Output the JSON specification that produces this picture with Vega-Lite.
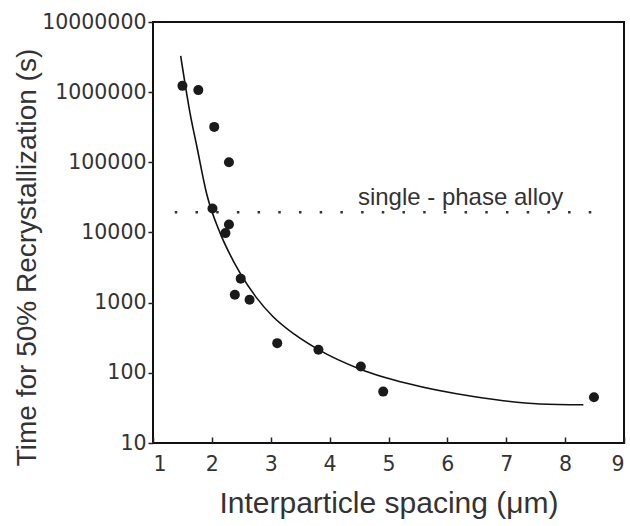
{
  "$schema": "https://vega.github.io/schema/vega-lite/v6.json",
  "width": 471,
  "height": 421,
  "autosize": {"type": "none"},
  "padding": {"left": 153, "top": 22, "right": 6, "bottom": 83},
  "background": "white",
  "config": {
    "font": "Liberation Sans",
    "view": {"stroke": "#111", "strokeWidth": 2},
    "axis": {"grid": false, "domain": false, "labelFont": "DejaVu Sans", "titleFont": "Liberation Sans", "labelColor": "#333", "titleColor": "#333", "tickColor": "#222", "tickWidth": 1.5, "titleFontWeight": "normal"}
  },
  "datasets": {
    "pts": [
      {"x": 1.50, "y": 1230000},
      {"x": 1.77, "y": 1070000},
      {"x": 2.04, "y": 320000},
      {"x": 2.29, "y": 100000},
      {"x": 2.01, "y": 22000},
      {"x": 2.29, "y": 13000},
      {"x": 2.23, "y": 9800},
      {"x": 2.49, "y": 2200},
      {"x": 2.39, "y": 1300},
      {"x": 2.64, "y": 1100},
      {"x": 3.11, "y": 265},
      {"x": 3.81, "y": 213},
      {"x": 4.53, "y": 123},
      {"x": 4.91, "y": 54},
      {"x": 8.49, "y": 45}
    ],
    "curve": [
      {"x": 1.47, "y": 3300000},
      {"x": 1.63, "y": 500000},
      {"x": 1.75, "y": 160000},
      {"x": 1.91, "y": 36000},
      {"x": 2.14, "y": 9800},
      {"x": 2.30, "y": 5000},
      {"x": 2.48, "y": 2630},
      {"x": 2.75, "y": 1200},
      {"x": 3.04, "y": 631},
      {"x": 3.40, "y": 355},
      {"x": 3.81, "y": 214},
      {"x": 4.53, "y": 112},
      {"x": 5.31, "y": 71},
      {"x": 6.44, "y": 46},
      {"x": 7.57, "y": 36},
      {"x": 8.31, "y": 35}
    ],
    "ref": [{"x": 1.37, "x2": 8.67, "y": 19500, "label": "single - phase alloy", "lx": 4.48, "ly": 24500}]
  },
  "layer": [
    {
      "data": {"name": "ref"},
      "mark": {"type": "rule", "strokeDash": [2.5, 18.2], "strokeWidth": 2.5, "color": "#333", "strokeCap": "butt"},
      "encoding": {
        "x": {"field": "x", "type": "quantitative", "scale": {"domain": [1, 9], "nice": false},
              "axis": {"title": "Interparticle spacing (μm)", "values": [1,2,3,4,5,6,7,8,9], "format": "d", "offset": -6, "tickSize": 6, "labelPadding": 11, "labelFontSize": 20.5, "titleFontSize": 30, "titleBaseline": "alphabetic", "titleY": 75}},
        "x2": {"field": "x2"},
        "y": {"field": "y", "type": "quantitative", "scale": {"type": "log", "domain": [10, 10000000], "nice": false},
              "axis": {"title": "Time for 50% Recrystallization (s)", "values": [10,100,1000,10000,100000,1000000,10000000], "format": "d", "tickSize": 5, "labelPadding": 2, "labelFontSize": 20.5, "titleFontSize": 28, "titleBaseline": "alphabetic", "titleX": -118, "titleY": 235}}
      }
    },
    {
      "data": {"name": "ref"},
      "mark": {"type": "text", "align": "left", "baseline": "alphabetic", "fontSize": 24, "color": "#333"},
      "encoding": {
        "x": {"field": "lx", "type": "quantitative"},
        "y": {"field": "ly", "type": "quantitative"},
        "text": {"field": "label"}
      }
    },
    {
      "data": {"name": "curve"},
      "mark": {"type": "line", "interpolate": "monotone", "color": "#111", "strokeWidth": 1.6},
      "encoding": {
        "x": {"field": "x", "type": "quantitative"},
        "y": {"field": "y", "type": "quantitative"}
      }
    },
    {
      "data": {"name": "pts"},
      "mark": {"type": "circle", "size": 100, "color": "#1a1a1a", "opacity": 1},
      "encoding": {
        "x": {"field": "x", "type": "quantitative"},
        "y": {"field": "y", "type": "quantitative"}
      }
    }
  ]
}
